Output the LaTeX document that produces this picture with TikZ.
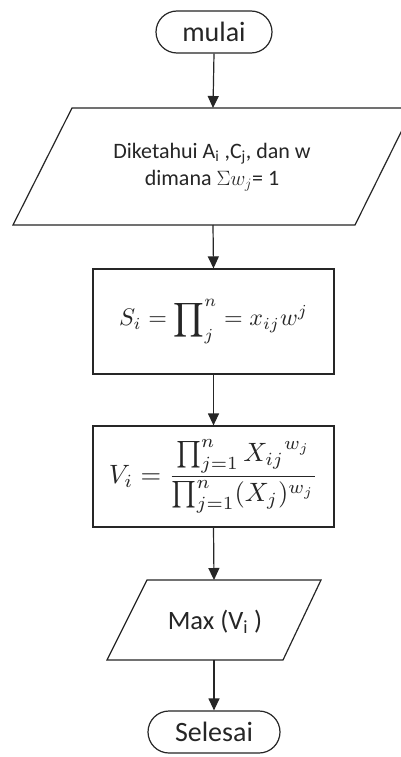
\documentclass[tikz,border=0pt]{standalone}
\usepackage{amsmath}
\usepackage{graphicx}
\usepackage{fontspec}
\setmainfont{Carlito}
\usetikzlibrary{arrows.meta,shapes.misc}
\begin{document}
\begin{tikzpicture}[x=1pt,y=-1pt,
  line/.style={draw=black!85,line width=1.2pt},
  arr/.style={line,-{Triangle[length=12pt,width=11pt]}},
  term/.style={line,rounded rectangle,minimum height=42pt,inner sep=0pt,text=black!85,font=\fontsize{28}{30}\selectfont},
  procbox/.style={line,rectangle,inner sep=0pt,text=black!85},
  txt/.style={align=center,inner sep=0pt,text=black!85}]
\useasboundingbox (0,0) rectangle (401,757);
\fill[white] (0,0) rectangle (401,757);

% start
\node[term,minimum width=116pt] (start) at (214,32) {mulai};

% input parallelogram
\draw[line] (72,108) -- (413,108) -- (355,225) -- (13,225) -- cycle;
\coordinate (inT) at (213,108);
\coordinate (inB) at (213,225);
\node[txt,font=\fontsize{22}{27}\selectfont] (in) at (212,167)
  {Diketahui A\textsubscript{i} ,C\textsubscript{j}, dan w\\ dimana $\Sigma w_j$= 1};

% S box
\node[procbox,minimum width=241pt,minimum height=105pt] (sbox) at (213.5,321.5)
  {\scalebox{2.4}{$\displaystyle S_i = \prod\nolimits_{j}^{n} = x_{ij}w^j$}};

% V box
\node[procbox,minimum width=241pt,minimum height=101pt] (vbox) at (213.5,476.5)
  {\scalebox{2.65}{$\displaystyle V_i = \frac{\prod_{j=1}^{n} {X_{ij}}^{w_j}}{\prod_{j=1}^{n} (X_j)^{w_j}}$}};

% output parallelogram
\draw[line] (147,580) -- (321,580) -- (283,660) -- (107,660) -- cycle;
\coordinate (outT) at (214,580);
\coordinate (outB) at (214,660);
\node[txt,font=\fontsize{26.5}{30}\selectfont] (out) at (215,622) {Max (V\textsubscript{i} )};

% end
\node[term,minimum width=132pt] (stop) at (214,732) {Selesai};

% connectors
\draw[arr] (start.south) -- (inT);
\draw[arr] (inB) -- (sbox.north);
\draw[arr] (sbox.south) -- (vbox.north);
\draw[arr] (vbox.south) -- (outT);
\draw[arr] (outB) -- (stop.north);
\end{tikzpicture}
\end{document}
